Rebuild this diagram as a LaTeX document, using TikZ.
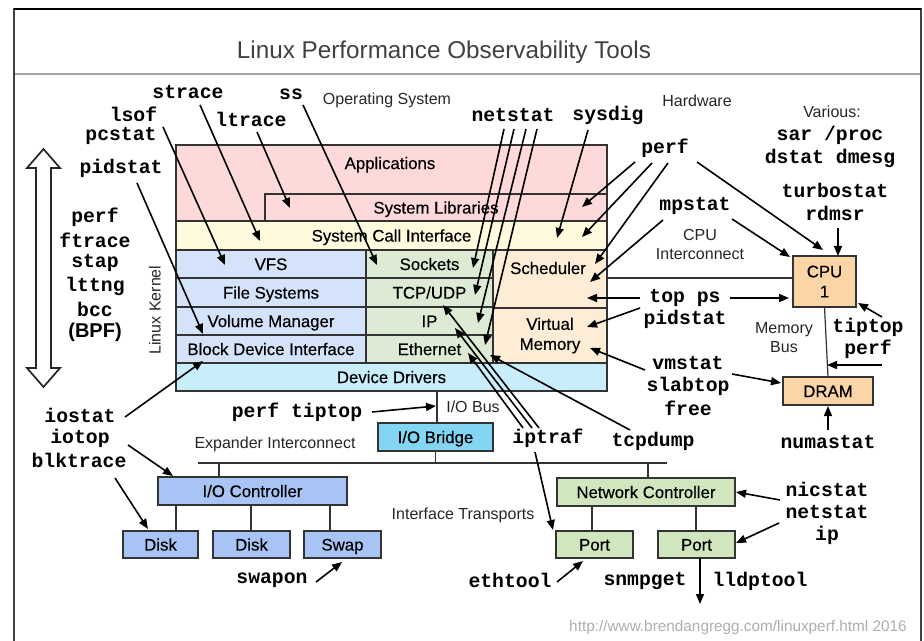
\documentclass[tikz,border=0pt]{standalone}
\usepackage{fontspec}
\setmainfont{Liberation Sans}
\newfontfamily\monofam{Liberation Mono}
\newfontfamily\medfam[FakeBold=0.35]{Liberation Sans}
\usetikzlibrary{arrows.meta}
\definecolor{cpink}{RGB}{253,217,217}
\definecolor{cyel}{RGB}{255,249,222}
\definecolor{cblue}{RGB}{212,226,250}
\definecolor{cgreen}{RGB}{221,234,212}
\definecolor{cpeach}{RGB}{253,236,214}
\definecolor{ccyan}{RGB}{200,237,251}
\definecolor{corange}{RGB}{252,213,166}
\definecolor{cbridge}{RGB}{130,214,244}
\definecolor{cioc}{RGB}{168,196,245}
\definecolor{cnet}{RGB}{207,230,190}
\newcommand\bx[7]{\node[box, fill=#6, minimum width={(#4-#2)*0.75pt}, minimum height={(#5-#3)*0.75pt}] (#1) at ({(#2+#4)/2},{(#3+#5)/2}) {#7};}
\newcommand\sbx[7]{\node[box, text height=9.1pt, text depth=0pt, fill=#6, minimum width={(#4-#2)*0.75pt}, minimum height={(#5-#3)*0.75pt}] (#1) at ({(#2+#4)/2},{(#3+#5)/2}) {#7};}
\newcommand\tarr[5]{\coordinate (#1s) at (#2,#3); \coordinate (#1e) at (#4,#5); \draw[arr] (#1s) -- (#1e);}
\newcommand\tln[5]{\coordinate (#1s) at (#2,#3); \coordinate (#1e) at (#4,#5); \draw[cline] (#1s) -- (#1e);}
\begin{document}
\begin{tikzpicture}[x=0.75pt,y=-0.75pt,
  box/.style={draw=black!80, line width=0.9pt, inner sep=0pt, outer sep=0pt, align=center, font=\medfam\fontsize{12.6}{15}\selectfont},
  btxt/.style={inner sep=0pt, align=center, text height=9.1pt, text depth=0pt, font=\medfam\fontsize{12.6}{15}\selectfont},
  tool/.style={inner sep=0pt, align=center, font=\monofam\bfseries\fontsize{14.8}{17}\selectfont},
  lbl/.style={inner sep=0pt, align=center, text=black!85, font=\fontsize{12}{14.3}\selectfont},
  arr/.style={-{Triangle[length=7.5pt,width=6pt]}, line width=1.2pt, black},
  cline/.style={line width=0.9pt, black!80}]
\useasboundingbox (0,0) rectangle (924,641);
% frame
\draw[line width=1.6pt, black!75] (14,641) -- (14,9) -- (921,9) -- (921,641);
\draw[line width=1.5pt, black] (14,9) -- (921,9);
\draw[line width=1.5pt, black!35] (15,74) -- (920,74);
\node[inner sep=0pt, text=black!75, font=\fontsize{18.2}{20}\selectfont] (title) at (444,52) {Linux Performance Observability Tools};
% kernel stack
\bx{apps}{176}{145}{607}{221}{cpink}{}
\node[btxt] (appst) at (390,163) {Applications};
\sbx{slib}{265}{194}{607}{221}{cpink}{System Libraries}
\sbx{sci}{176}{221}{607}{250}{cyel}{System Call Interface}
\sbx{vfs}{176}{250}{366}{278}{cblue}{VFS}
\sbx{fs}{176}{278}{366}{307}{cblue}{File Systems}
\sbx{vol}{176}{307}{366}{335}{cblue}{Volume Manager}
\sbx{bdi}{176}{335}{366}{363}{cblue}{Block Device Interface}
\sbx{sock}{366}{250}{493}{278}{cgreen}{Sockets}
\sbx{tcp}{366}{278}{493}{307}{cgreen}{TCP/UDP}
\sbx{ip}{366}{307}{493}{335}{cgreen}{IP}
\sbx{eth}{366}{335}{493}{363}{cgreen}{Ethernet}
\bx{sched}{493}{250}{607}{308}{cpeach}{}
\node[btxt] (schedt) at (548,268) {Scheduler};
\bx{vmem}{493}{308}{607}{363}{cpeach}{Virtual\\Memory}
\sbx{dd}{176}{363}{607}{391}{ccyan}{Device Drivers}
\node[lbl, rotate=90] (lk) at (155,310) {Linux Kernel};
% hardware
\bx{cpu}{793}{256}{856}{307}{corange}{CPU\\1}
\sbx{dram}{783}{377}{873}{405}{corange}{DRAM}
\sbx{iob}{378}{423}{493}{451}{cbridge}{I/O Bridge}
\sbx{ioc}{158}{477}{347}{505}{cioc}{I/O Controller}
\sbx{disk1}{123}{531}{198}{558}{cioc}{Disk}
\sbx{disk2}{213}{531}{290}{558}{cioc}{Disk}
\sbx{swap}{304}{531}{381}{558}{cioc}{Swap}
\sbx{nc}{557}{478}{735}{506}{cnet}{Network Controller}
\sbx{port1}{556}{531}{633}{558}{cnet}{Port}
\sbx{port2}{658}{531}{735}{558}{cnet}{Port}
% plain connectors
\coordinate (ci) at (607,278);
\draw[cline] (ci) -- (ci -| cpu.west);
\draw[cline] (cpu.south) -- (dram.north);
\coordinate (iobus) at (437,391);
\draw[cline] (iobus) -- (iobus |- iob.north);
\tln{bus}{198}{463}{667}{463}
\draw[cline] (iob.south) -- (iob.south |- buss);
\coordinate (b1) at (219,463); \draw[cline] (b1) -- (b1 |- ioc.north);
\coordinate (b2) at (648,463); \draw[cline] (b2) -- (b2 |- nc.north);
\coordinate (d1) at (176,505); \draw[cline] (d1) -- (d1 |- disk1.north);
\coordinate (d2) at (251,505); \draw[cline] (d2) -- (d2 |- disk2.north);
\coordinate (d3) at (330,505); \draw[cline] (d3) -- (d3 |- swap.north);
\coordinate (p1) at (592,506); \draw[cline] (p1) -- (p1 |- port1.north);
\coordinate (p2) at (696,506); \draw[cline] (p2) -- (p2 |- port2.north);
% small labels
\node[lbl] (os) at (387,100) {Operating System};
\node[lbl] (hw) at (697,101) {Hardware};
\node[lbl] (var) at (832,112) {Various:};
\node[lbl] (cpui) at (700,244.5) {CPU\\Interconnect};
\node[lbl] (mbus) at (784,337.5) {Memory\\Bus};
\node[lbl] (iobl) at (473,407) {I/O Bus};
\node[lbl] (expi) at (275,444) {Expander Interconnect};
\node[lbl] (ift) at (463,515) {Interface Transports};
\node[inner sep=0pt, text=black!32, font=\fontsize{11.5}{13}\selectfont] (url) at (738,628) {http://www.brendangregg.com/linuxperf.html 2016};
% big double arrow
\draw[line width=1.3pt, black!85, fill=white, line join=miter]
  (43.5,149) -- (60,168) -- (51,168) -- (51,368) -- (60,368) -- (43.5,387)
  -- (27,368) -- (36,368) -- (36,168) -- (27,168) -- cycle;
% tools
\node[tool] (tperf) at (95,217) {perf};
\node[tool] (tftrace) at (95,240) {ftrace};
\node[tool] (tstap) at (95,263) {stap};
\node[tool] (tlttng) at (95,286) {lttng};
\node[tool] (tbcc) at (95,309) {bcc};
\node[inner sep=0pt, font=\bfseries\fontsize{15}{17}\selectfont] (tbpf) at (95,332) {(BPF)};
\node[tool] (strace) at (188,92) {strace};
\node[tool] (lsof) at (133.5,114) {lsof};
\node[tool] (pcstat) at (121,136) {pcstat};
\node[tool] (ltrace) at (251,119) {ltrace};
\node[tool] (pidstat) at (121,168) {pidstat};
\node[tool] (ss) at (291,94) {ss};
\node[tool] (netstat) at (513,115) {netstat};
\node[tool] (sysdig) at (608,115) {sysdig};
\node[tool] (perfr) at (665,148) {perf};
\node[tool] (sar) at (830,135) {sar /proc};
\node[tool] (dstat) at (830,158) {dstat dmesg};
\node[tool] (turbo) at (835,190) {turbostat};
\node[tool] (rdmsr) at (835,213) {rdmsr};
\node[tool] (mpstat) at (695,206) {mpstat};
\node[tool] (topps) at (685,298) {top ps};
\node[tool] (pidstat2) at (685,319) {pidstat};
\node[tool] (tiptop) at (868,327) {tiptop};
\node[tool] (perf3) at (868,349) {perf};
\node[tool] (vmstat) at (688,363) {vmstat};
\node[tool] (slabtop) at (688,386) {slabtop};
\node[tool] (free) at (688,408) {free};
\node[tool] (numastat) at (828,442) {numastat};
\node[tool] (perftip) at (297,412) {perf tiptop};
\node[tool] (iostat) at (80,415) {iostat};
\node[tool] (iotop) at (80,438) {iotop};
\node[tool] (blktrace) at (79,460) {blktrace};
\node[tool] (iptraf) at (548,438) {iptraf};
\node[tool] (tcpdump) at (653,441) {tcpdump};
\node[tool] (swapon) at (272,580) {swapon};
\node[tool] (ethtool) at (510,580) {ethtool};
\node[tool] (snmpget) at (645,581) {snmpget};
\node[tool] (lldptool) at (760,581) {lldptool};
\node[tool] (nicstat) at (827,489) {nicstat};
\node[tool] (netstat2) at (827,512) {netstat};
\node[tool] (iptool) at (827,535) {ip};
% arrows
\tarr{a1}{200}{105}{260}{241}
\tarr{a2}{163}{127}{225}{265}
\tarr{a3}{257}{132}{290}{208}
\tarr{a4}{137}{183}{203}{334}
\tarr{a5}{303}{105}{377}{265}
\tarr{n1}{504}{129}{473}{268}
\tarr{n2}{514}{129}{475}{295}
\tarr{n3}{526}{129}{478}{323}
\tarr{n4}{537}{129}{485}{345}
\tarr{sd}{588}{130}{557}{238}
\tarr{pa}{635}{162}{582}{207}
\tarr{pb}{652}{163}{582}{237}
\tarr{pc}{668}{163}{595}{264}
\tarr{pd}{697}{162}{823}{250}
\tarr{ma}{663}{220}{590}{282}
\tarr{mb}{732}{219}{790}{257}
\tarr{tb}{838}{228}{838}{256}
\tarr{tpl}{640}{298}{587}{298}
\tarr{tpr}{730}{298}{789}{298}
\tarr{ps2}{640}{308}{587}{327}
\tarr{vm1}{645}{370}{590}{348}
\tarr{vm2}{732}{374}{781}{383}
\tarr{tt}{882}{317}{858}{303}
\tarr{pf}{882}{365}{827}{365}
\tarr{nu}{828}{430}{828}{406}
\tarr{io1}{125}{417}{203}{361}
\tarr{io2}{128}{445}{173}{476}
\tarr{io3}{115}{478}{148}{529}
\tarr{ptt}{372}{412}{436}{406}
\tarr{sw}{316}{582}{342}{562}
\tarr{ipa}{539}{428}{443}{305}
\tarr{ipb}{532}{428}{455}{328}
\tarr{ipc}{523}{428}{468}{353}
\tarr{td}{630}{430}{490}{355}
\tarr{ipp}{535}{452}{553}{530}
\tarr{nic}{780}{500}{736}{492}
\tarr{nip}{779}{523}{736}{543}
\tarr{et}{557}{582}{583}{561}
\tarr{pdn}{700}{558}{700}{604}
\end{tikzpicture}
\end{document}
